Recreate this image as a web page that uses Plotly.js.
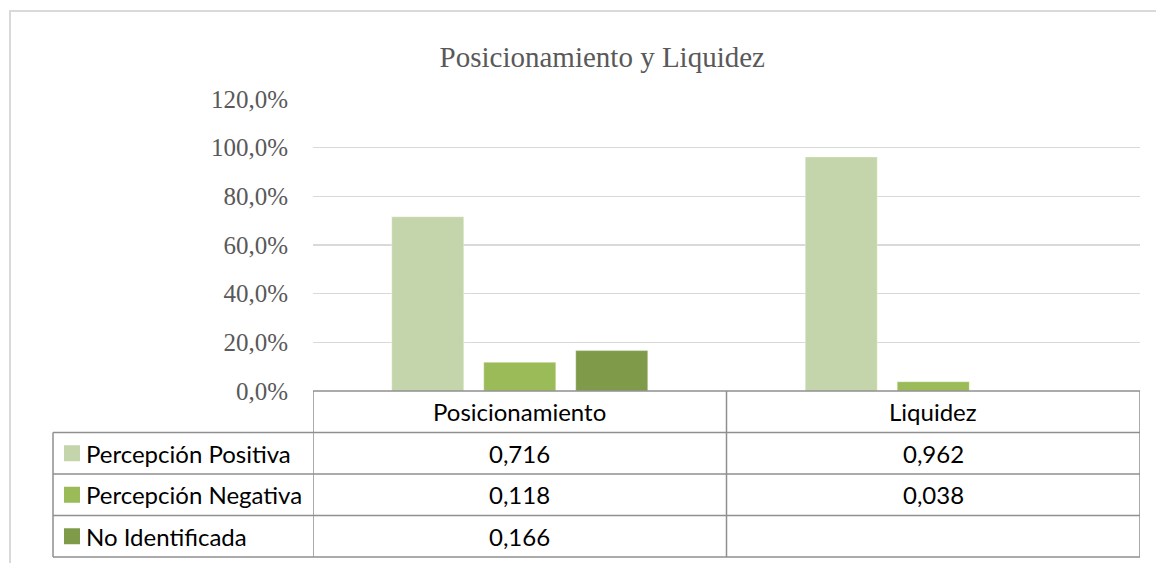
<!DOCTYPE html>
<html>
<head>
<meta charset="utf-8">
<script src="https://cdn.plot.ly/plotly-3.0.1.min.js"></script>
<style>html,body{margin:0;padding:0;background:#fff;}#chart{width:1156px;height:563px;}</style>
</head>
<body>
<div id="chart"></div>
<script>
// ---- data ----
const categories = ["Posicionamiento", "Liquidez"];
const seriesNames = ["Percepción Positiva", "Percepción Negativa", "No Identificada"];
const positiva = [0.716, 0.962];
const negativa = [0.118, 0.038];
const noIdentificada = [0.166, null];
const yTicks = [0, 0.2, 0.4, 0.6, 0.8, 1.0, 1.2];
const titleText = "Posicionamiento y Liquidez";

// ---- styles ----
const colors = ["#C5D5AB", "#9BBB59", "#7F9B4A"];
const W = 1156, H = 563;
const mL = 313, mR = 16, mT = 99, mB = 172;
const plotW = W - mL - mR, plotH = H - mT - mB;
const px2x = px => (px - mL) / plotW;
const py2y = py => (H - mB - py) / plotH;

const seriesValues = [positiva, negativa, noIdentificada];
const traces = seriesValues.map((vals, i) => ({
  type: "bar",
  name: seriesNames[i],
  x: categories,
  y: vals,
  marker: {color: colors[i], line: {color: "rgba(255,255,255,0.35)", width: 1}},
  hoverinfo: "x+y+name"
}));

const tableFont = {family: "Lato, 'Open Sans', sans-serif", size: 24, color: "#000000"};
const gridCol = "#8f8f8f";
const rowTop = H - mB;          // top of header row (px)
const rowH = 41.5;
const leftColPx = 53;
const shapes = [];
const annotations = [];

// outer frame of the chart area
shapes.push({type: "rect", xref: "paper", yref: "paper",
  x0: px2x(10), x1: px2x(1200), y0: py2y(11), y1: py2y(600),
  line: {color: "#d9d9d9", width: 2}, fillcolor: "rgba(0,0,0,0)", layer: "below"});

const nRows = seriesNames.length;
const tableBottom = rowTop + rowH * (nRows + 1);
// horizontal lines
shapes.push({type: "line", xref: "x", yref: "paper", x0: -0.5, x1: categories.length - 0.5,
  y0: py2y(rowTop), y1: py2y(rowTop), line: {color: gridCol, width: 1.5}});
for (let r = 1; r <= nRows + 1; r++) {
  const yy = py2y(rowTop + rowH * r);
  shapes.push({type: "line", xref: "paper", yref: "paper", x0: px2x(leftColPx), x1: 1,
    y0: yy, y1: yy, line: {color: gridCol, width: 1.5}});
}
// vertical lines
shapes.push({type: "line", xref: "paper", yref: "paper", x0: px2x(leftColPx), x1: px2x(leftColPx),
  y0: py2y(rowTop + rowH), y1: py2y(tableBottom), line: {color: gridCol, width: 1.5}});
for (let c = 0; c <= categories.length; c++) {
  shapes.push({type: "line", xref: "x", yref: "paper", x0: c - 0.5, x1: c - 0.5,
    y0: py2y(rowTop), y1: py2y(tableBottom), line: {color: gridCol, width: 1.5}});
}
// header labels
categories.forEach((cat, c) => {
  annotations.push({xref: "x", yref: "paper", x: cat, y: py2y(rowTop + rowH / 2),
    text: cat, showarrow: false, xanchor: "center", yanchor: "middle", font: tableFont});
});
// rows
seriesNames.forEach((name, r) => {
  const yc = py2y(rowTop + rowH * (r + 1.5));
  shapes.push({type: "rect", xref: "paper", yref: "paper",
    x0: px2x(64), x1: px2x(80), y0: yc - 8 / plotH, y1: yc + 8 / plotH,
    fillcolor: colors[r], line: {width: 0}});
  annotations.push({xref: "paper", yref: "paper", x: px2x(84), y: yc, text: name,
    showarrow: false, xanchor: "left", yanchor: "middle", font: tableFont});
  seriesValues[r].forEach((v, c) => {
    if (v === null || v === undefined) return;
    annotations.push({xref: "x", yref: "paper", x: categories[c], y: yc,
      text: v.toFixed(3).replace(".", ","), showarrow: false,
      xanchor: "center", yanchor: "middle", font: tableFont});
  });
});

const layout = {
  width: W, height: H,
  margin: {l: mL, r: mR, t: mT, b: mB, pad: 0},
  paper_bgcolor: "#ffffff", plot_bgcolor: "#ffffff",
  separators: ",.",
  title: {text: titleText, xref: "container", yref: "container", x: 0.521, y: 1 - 57 / H,
    xanchor: "center", yanchor: "middle",
    font: {family: "'Liberation Serif', 'Times New Roman', serif", size: 29, color: "#595959"}},
  showlegend: false,
  barmode: "group",
  bargap: 0.3325,
  bargroupgap: 0.217,
  xaxis: {type: "category", range: [-0.5, categories.length - 0.5], showticklabels: false,
    showgrid: false, zeroline: false, showline: false, ticks: ""},
  yaxis: {range: [0, 1.2], tickvals: yTicks, tickformat: ".1%", showgrid: true,
    gridcolor: "#d9d9d9", gridwidth: 1.5, zeroline: false, showline: false, ticks: "",
    ticklabelstandoff: 24,
    tickfont: {family: "'Liberation Serif', 'Times New Roman', serif", size: 25, color: "#595959"}},
  shapes: shapes,
  annotations: annotations
};

Plotly.newPlot("chart", traces, layout, {displayModeBar: false, staticPlot: true});
</script>
</body>
</html>
